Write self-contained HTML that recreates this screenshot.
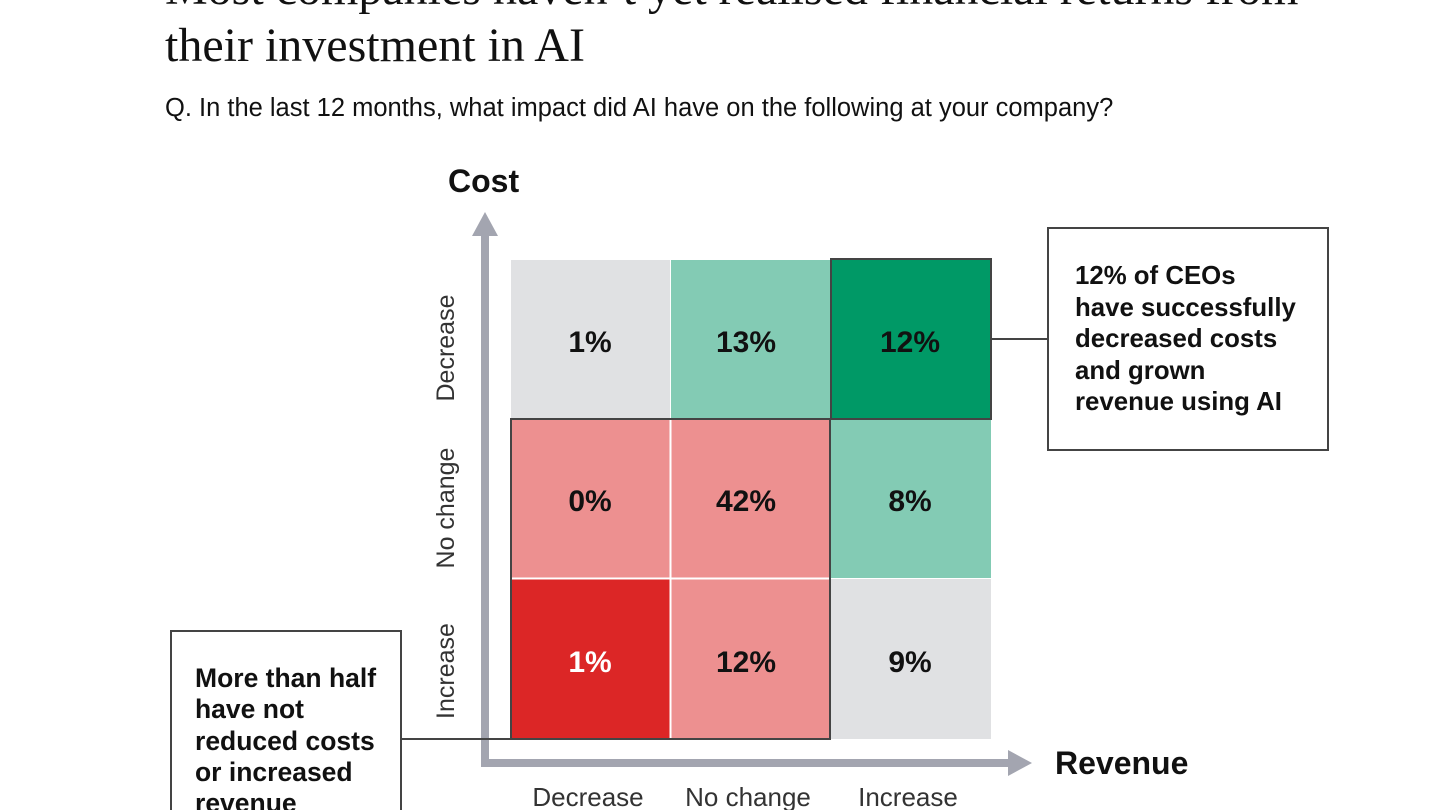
<!DOCTYPE html>
<html><head><meta charset="utf-8"><style>
html,body{margin:0;padding:0;background:#fff;width:1440px;height:810px;overflow:hidden}
svg{display:block}
.s{font-family:"Liberation Serif",serif}
.a{font-family:"Liberation Sans",sans-serif}
</style></head><body>
<svg width="1440" height="810" viewBox="0 0 1440 810">
<text class="s" x="165" y="4" font-size="48" fill="#111">Most companies haven’t yet realised financial returns from</text>
<text class="s" x="165" y="61" font-size="48" fill="#111">their investment in AI</text>
<text class="a" x="165" y="116" font-size="25.5" fill="#111">Q. In the last 12 months, what impact did AI have on the following at your company?</text>
<text class="a" x="448" y="192" font-size="32" font-weight="bold" fill="#111">Cost</text>
<rect x="511" y="260" width="159" height="158" fill="#e0e1e3"/>
<rect x="671" y="260" width="159" height="158" fill="#83cbb4"/>
<rect x="831" y="260" width="160" height="158" fill="#009966"/>
<rect x="511" y="419" width="159" height="159" fill="#ed9090"/>
<rect x="671" y="419" width="159" height="159" fill="#ed9090"/>
<rect x="831" y="419" width="160" height="159" fill="#83cbb4"/>
<rect x="511" y="579" width="159" height="160" fill="#dc2626"/>
<rect x="671" y="579" width="159" height="160" fill="#ed9090"/>
<rect x="831" y="579" width="160" height="160" fill="#e0e1e3"/>
<line x1="670.5" y1="419" x2="670.5" y2="739" stroke="#fff" stroke-width="2"/>
<line x1="511" y1="578.5" x2="830" y2="578.5" stroke="#fff" stroke-width="2"/>
<rect x="831" y="259" width="160" height="160" fill="none" stroke="#444" stroke-width="2"/>
<path d="M511 739 V419 H830 V739 Z" fill="none" stroke="#444" stroke-width="2"/>
<g class="a" font-size="30" font-weight="bold" text-anchor="middle" fill="#111">
<text x="590" y="352">1%</text><text x="746" y="352">13%</text><text x="910" y="352">12%</text>
<text x="590" y="511">0%</text><text x="746" y="511">42%</text><text x="910" y="511">8%</text>
<text x="590" y="672" fill="#fff">1%</text><text x="746" y="672">12%</text><text x="910" y="672">9%</text>
</g>
<rect x="481" y="232" width="8" height="534" fill="#a3a5b0"/>
<polygon points="485,212 472,236 498,236" fill="#a3a5b0"/>
<rect x="481" y="759" width="530" height="8" fill="#a3a5b0"/>
<polygon points="1032,763 1008,750 1008,776" fill="#a3a5b0"/>
<g class="a" font-size="25" fill="#333" text-anchor="middle">
<text transform="translate(454,348) rotate(-90)">Decrease</text>
<text transform="translate(454,508) rotate(-90)">No change</text>
<text transform="translate(454,671) rotate(-90)">Increase</text>
<text x="588" y="806" font-size="26">Decrease</text>
<text x="748" y="806" font-size="26">No change</text>
<text x="908" y="806" font-size="26">Increase</text>
</g>
<text class="a" x="1055" y="774" font-size="32" font-weight="bold" fill="#111">Revenue</text>
<rect x="1048" y="228" width="280" height="222" fill="#fff" stroke="#444" stroke-width="2"/>
<line x1="991" y1="339" x2="1048" y2="339" stroke="#444" stroke-width="2"/>
<g class="a" font-size="25.8" font-weight="bold" fill="#111">
<text x="1075" y="284">12% of CEOs</text>
<text x="1075" y="316">have successfully</text>
<text x="1075" y="347">decreased costs</text>
<text x="1075" y="379">and grown</text>
<text x="1075" y="410">revenue using AI</text>
</g>
<rect x="171" y="631" width="230" height="190" fill="#fff" stroke="#444" stroke-width="2"/>
<line x1="401" y1="739" x2="511" y2="739" stroke="#444" stroke-width="2"/>
<g class="a" font-size="26.5" font-weight="bold" fill="#111">
<text x="195" y="687">More than half</text>
<text x="195" y="718">have not</text>
<text x="195" y="750">reduced costs</text>
<text x="195" y="781">or increased</text>
<text x="195" y="812">revenue</text>
</g>
</svg>
</body></html>
